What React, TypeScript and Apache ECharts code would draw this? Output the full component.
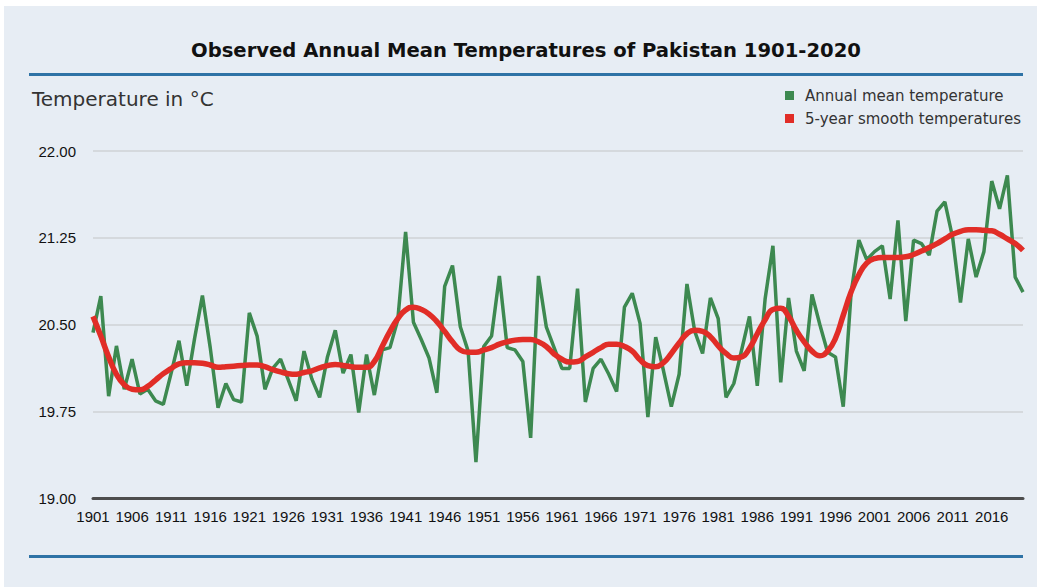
import React, { useEffect, useRef } from "react";
import * as echarts from "echarts";

const years: string[] = Array.from({ length: 120 }, (_, i) => String(1901 + i));

const annualMean: number[] = [
  20.43, 20.745, 19.88, 20.315, 19.94, 20.2, 19.9, 19.94, 19.84, 19.81,
  20.08, 20.36, 19.97, 20.38, 20.75, 20.3, 19.78, 19.99, 19.85, 19.83,
  20.6, 20.4, 19.94, 20.12, 20.2, 20.02, 19.84, 20.27, 20.03, 19.87,
  20.22, 20.45, 20.08, 20.24, 19.74, 20.24, 19.89, 20.28, 20.3, 20.54,
  21.3, 20.52, 20.37, 20.21, 19.91, 20.83, 21.01, 20.48, 20.27, 19.31,
  20.31, 20.4, 20.92, 20.3, 20.28, 20.18, 19.52, 20.92, 20.48, 20.3,
  20.12, 20.12, 20.81, 19.83, 20.12, 20.2, 20.07, 19.92, 20.65, 20.77,
  20.51, 19.7, 20.39, 20.1, 19.79, 20.07, 20.85, 20.44, 20.25, 20.73,
  20.55, 19.87, 19.99, 20.28, 20.57, 19.97, 20.72, 21.18, 20.0, 20.73,
  20.27, 20.1, 20.76, 20.5, 20.26, 20.22, 19.79, 20.77, 21.23, 21.06,
  21.13, 21.18, 20.72, 21.4, 20.53, 21.23, 21.2, 21.1, 21.48, 21.56,
  21.25, 20.69, 21.24, 20.91, 21.13, 21.74, 21.5, 21.79, 20.91, 20.78,
];

const smoothTemp: number[] = [
  20.57, 20.4, 20.22, 20.07, 19.98, 19.94, 19.935, 19.965, 20.02, 20.075,
  20.12, 20.16, 20.17, 20.17, 20.165, 20.15, 20.13, 20.135, 20.14, 20.145,
  20.15, 20.15, 20.135, 20.11, 20.09, 20.075, 20.07, 20.085, 20.1, 20.125,
  20.145, 20.155, 20.145, 20.135, 20.13, 20.13, 20.18, 20.31, 20.44, 20.55,
  20.625, 20.65, 20.63, 20.59, 20.525, 20.44, 20.35, 20.28, 20.26, 20.26,
  20.28, 20.3, 20.33, 20.35, 20.365, 20.37, 20.37, 20.35, 20.31, 20.245,
  20.2, 20.175, 20.18, 20.22, 20.26, 20.3, 20.33, 20.33, 20.31, 20.27,
  20.195, 20.145, 20.135, 20.17, 20.25, 20.34, 20.42, 20.45, 20.44, 20.395,
  20.315, 20.25, 20.21, 20.22, 20.295, 20.42, 20.54, 20.63, 20.64, 20.57,
  20.45, 20.35, 20.27, 20.23, 20.27, 20.38, 20.58, 20.78, 20.93, 21.03,
  21.07, 21.08, 21.08, 21.08, 21.085, 21.105, 21.135, 21.165, 21.2, 21.24,
  21.28, 21.305, 21.32, 21.32, 21.315, 21.31, 21.28, 21.24, 21.2, 21.14,
];

const yMin = 19;
const yMax = 22;
const yStep = 0.75;

const titleText = "Observed Annual Mean Temperatures of Pakistan 1901-2020";
const yAxisTitle = "Temperature in °C";
const seriesNames = ["Annual mean temperature", "5-year smooth temperatures"];

export default function App() {
  const ref = useRef<HTMLDivElement>(null);

  useEffect(() => {
    if (!ref.current) return;
    const chart = echarts.init(ref.current, undefined, { renderer: "svg" });
    const sans = "'DejaVu Sans', 'Noto Sans', sans-serif";
    const arial = "'Liberation Sans', Arial, sans-serif";
    chart.setOption({
      animation: false,
      backgroundColor: "#ffffff",
      graphic: [
        {
          type: "rect",
          shape: { x: 4, y: 6, width: 1040, height: 590 },
          style: { fill: "#e7edf4" },
          z: -10,
          silent: true,
        },
        {
          type: "line",
          shape: { x1: 29, y1: 74.5, x2: 1023, y2: 74.5 },
          style: { stroke: "#2f73a6", lineWidth: 3 },
        },
        {
          type: "line",
          shape: { x1: 29, y1: 556.5, x2: 1023, y2: 556.5 },
          style: { stroke: "#2f73a6", lineWidth: 3 },
        },
        {
          type: "text",
          x: 526,
          y: 50,
          style: {
            text: titleText,
            font: `bold 19.6px ${sans}`,
            fill: "#111111",
            textAlign: "center",
            textVerticalAlign: "middle",
          },
        },
        {
          type: "text",
          x: 32,
          y: 99,
          style: {
            text: yAxisTitle,
            font: `20px ${sans}`,
            fill: "#333333",
            textAlign: "left",
            textVerticalAlign: "middle",
          },
        },
      ],
      legend: {
        orient: "vertical",
        left: 780,
        top: 83,
        icon: "rect",
        itemWidth: 9,
        itemHeight: 9,
        itemGap: 8,
        textStyle: {
          fontSize: 15,
          color: "#333333",
          fontFamily: sans,
          padding: [0, 0, 0, 6],
        },
        data: seriesNames,
      },
      grid: { left: 93, right: 14, top: 151, bottom: 89 },
      xAxis: {
        type: "category",
        data: years,
        boundaryGap: false,
        axisLine: { show: true, lineStyle: { color: "#4d4d4d", width: 3 } },
        axisTick: { show: false },
        axisLabel: {
          interval: 4,
          color: "#111111",
          fontSize: 15,
          fontFamily: arial,
          margin: 11,
        },
        splitLine: { show: false },
      },
      yAxis: {
        type: "value",
        min: yMin,
        max: yMax,
        interval: yStep,
        axisLine: { show: false },
        axisTick: { show: false },
        axisLabel: {
          color: "#111111",
          fontSize: 15,
          fontFamily: arial,
          margin: 17,
          formatter: (v: number) => v.toFixed(2),
        },
        splitLine: { show: true, lineStyle: { color: "#cfd2d6", width: 1.5 } },
      },
      series: [
        {
          name: seriesNames[0],
          type: "line",
          data: annualMean,
          showSymbol: false,
          symbol: "none",
          itemStyle: { color: "#3d8950" },
          lineStyle: { color: "#3d8950", width: 3.5 },
          z: 2,
        },
        {
          name: seriesNames[1],
          type: "line",
          data: smoothTemp,
          smooth: 0.5,
          showSymbol: false,
          symbol: "none",
          itemStyle: { color: "#e12d27" },
          lineStyle: { color: "#e12d27", width: 5.5 },
          z: 3,
        },
      ],
    });
    return () => chart.dispose();
  }, []);

  return (
    <div
      style={{
        position: "fixed",
        left: 0,
        top: 0,
        width: 1037,
        height: 587,
        background: "#ffffff",
      }}
    >
      <div ref={ref} style={{ width: 1037, height: 587 }} />
    </div>
  );
}
